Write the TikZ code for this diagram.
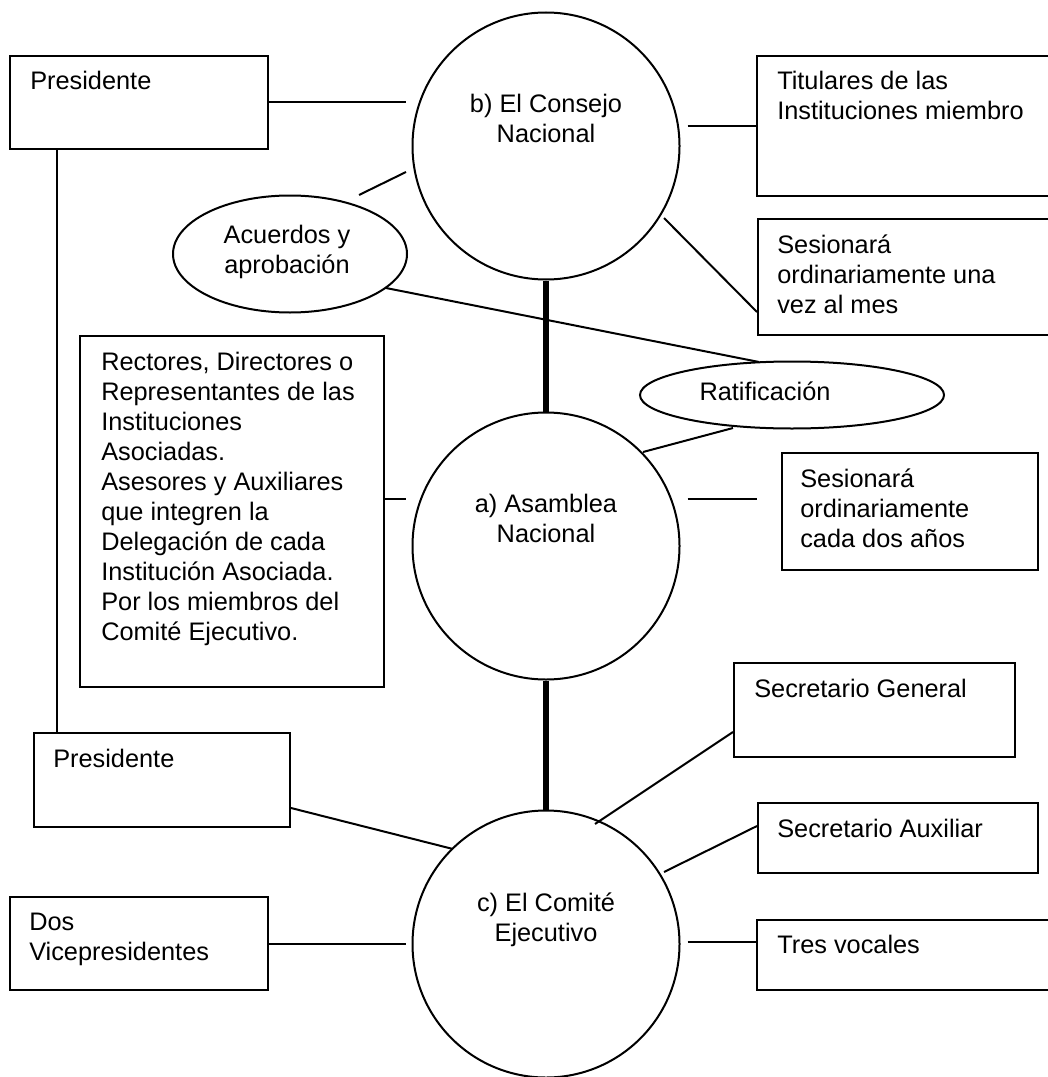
\documentclass[tikz,border=0pt]{standalone}
\usepackage{fontspec}
\setmainfont{Liberation Sans}
\usetikzlibrary{calc,shapes.geometric}

% stacked lines whose reference point is the baseline of the first line
\newcommand\linesL[1]{\vtop{\halign{##\hfil\cr#1\crcr}}}
\newcommand\linesC[1]{\vtop{\halign{\hfil##\hfil\cr#1\crcr}}}

\begin{document}
\begin{tikzpicture}[
  x=0.75pt, y=-0.75pt,
  box/.style={draw, line width=1.5pt, rectangle, inner sep=0pt, anchor=north west},
  organ/.style={draw, line width=1.5pt, circle, inner sep=0pt, minimum size=267*0.75pt},
  oval/.style={draw, line width=1.5pt, ellipse, inner sep=0pt},
  lbl/.style={inner sep=0pt, font=\fontsize{19}{22.5}\selectfont},
  link/.style={line width=1.5pt},
  trunk/.style={line width=4pt},
]
\useasboundingbox (0,0) rectangle (1048,1077);
\fill[white] (0,0) rectangle (1048,1077);

% main bodies
\node[organ] (cons) at (546,146) {};
\node[organ] (asam) at (546,546) {};
\node[organ] (comi) at (546,944) {};

\node[lbl, anchor=base] (tcons) at (546,113) {\linesC{b) El Consejo\cr Nacional}};
\node[lbl, anchor=base] (tasam) at (546,512) {\linesC{a) Asamblea\cr Nacional}};
\node[lbl, anchor=base] (tcomi) at (546,911) {\linesC{c) El Comité\cr Ejecutivo}};

% ovals
\node[oval, minimum width=234*0.75pt, minimum height=117*0.75pt] (acuer) at (290,254) {};
\node[oval, minimum width=304*0.75pt, minimum height=67*0.75pt] (ratif) at (792,395) {};
\node[lbl, anchor=base] (tacuer) at (287,243) {\linesC{Acuerdos y\cr aprobación}};
\node[lbl, anchor=base] (tratif) at (765,400) {Ratificación};

% boxes
\node[box, minimum width=258*0.75pt, minimum height=93*0.75pt] (presA) at (9,55) {};
\node[box, minimum width=320*0.75pt, minimum height=140*0.75pt] (titul) at (756,55) {};
\node[box, minimum width=320*0.75pt, minimum height=116*0.75pt] (sesMes) at (757,218) {};
\node[box, minimum width=304*0.75pt, minimum height=351*0.75pt] (rect) at (79,335) {};
\node[box, minimum width=256*0.75pt, minimum height=117*0.75pt] (sesDos) at (781,452) {};
\node[box, minimum width=281*0.75pt, minimum height=94*0.75pt] (secGen) at (733,662) {};
\node[box, minimum width=256*0.75pt, minimum height=94*0.75pt] (presB) at (33,732) {};
\node[box, minimum width=280*0.75pt, minimum height=70*0.75pt] (secAux) at (757,802) {};
\node[box, minimum width=258*0.75pt, minimum height=93*0.75pt] (vice) at (9,896) {};
\node[box, minimum width=320*0.75pt, minimum height=70*0.75pt] (tres) at (756,919) {};

% box texts
\node[lbl, anchor=base west] (tpresA) at (30,90) {Presidente};
\node[lbl, anchor=base west] (ttitul) at (777,90) {\linesL{Titulares de las\cr Instituciones miembro}};
\node[lbl, anchor=base west] (tsesMes) at (777,253) {\linesL{Sesionará\cr ordinariamente una\cr vez al mes}};
\node[lbl, anchor=base west] (trect) at (101,370) {\linesL{Rectores, Directores o\cr Representantes de las\cr Instituciones\cr Asociadas.\cr Asesores y Auxiliares\cr que integren la\cr Delegación de cada\cr Institución Asociada.\cr Por los miembros del\cr Comité Ejecutivo.}};
\node[lbl, anchor=base west] (tsesDos) at (800,487) {\linesL{Sesionará\cr ordinariamente\cr cada dos años}};
\node[lbl, anchor=base west] (tsecGen) at (754,697) {Secretario General};
\node[lbl, anchor=base west] (tpresB) at (53,767) {Presidente};
\node[lbl, anchor=base west] (tsecAux) at (777,837) {Secretario Auxiliar};
\node[lbl, anchor=base west] (tvice) at (29,930) {\linesL{Dos\cr Vicepresidentes}};
\node[lbl, anchor=base west] (ttres) at (777,953) {Tres vocales};

% thick links between the bodies
\draw[trunk] (cons.south) -- (asam.north);
\draw[trunk] (asam.south) -- (comi.north);

% Consejo Nacional
\draw[link] (presA.east) -- ($(presA.east -| cons.west)+(-6,0)$);
\draw[link] ($(titul.west -| cons.east)+(7,0)$) -- (titul.west);
\draw[link] ($(cons.center)+(-140,26)$) -- ($(acuer.center)+(69,-59)$);
\draw[link] ($(cons.center)+(118,72)$) -- ($(sesMes.north west)+(0,94)$);
\draw[link] ($(acuer.center)+(96,34)$) -- ($(ratif.center)+(-33,-33)$);

% Asamblea Nacional
\draw[link] ($(ratif.center)+(-59,33)$) -- ($(asam.center)+(97,-94)$);
\draw[link] ($(rect.north east)+(0,164)$) -- ($(rect.north east -| asam.west)+(-6,164)$);
\coordinate (sesDosTip) at ($(sesDos.north west)+(-24,47)$);
\draw[link] ($(asam.east)+(7,-47)$) -- (sesDosTip);

% Comité Ejecutivo
\draw[link] ($(presA.south west)+(48,0)$) -- ($(presB.north west)+(24,0)$);
\draw[link] ($(presB.north east)+(0,76)$) -- ($(comi.center)+(-93,-95)$);
\draw[link] ($(secGen.north west)+(0,70)$) -- ($(comi.center)+(49,-120)$);
\draw[link] ($(secAux.north west)+(0,24)$) -- ($(comi.center)+(118,-72)$);
\draw[link] (vice.east) -- ($(vice.east -| comi.west)+(-6,0)$);
\draw[link] ($(comi.east)+(7,-2)$) -- ($(tres.north west)+(0,23)$);
\end{tikzpicture}
\end{document}
